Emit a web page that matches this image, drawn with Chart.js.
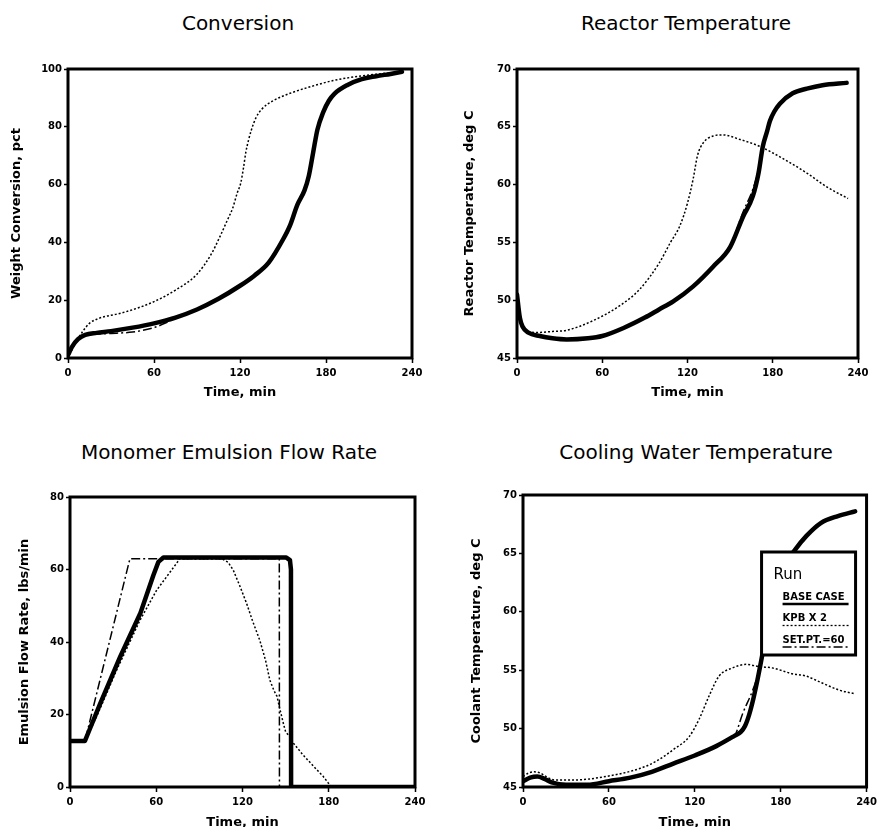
<!DOCTYPE html>
<html>
<head>
<meta charset="utf-8">
<script src="https://cdn.jsdelivr.net/npm/chart.js@4.4.0/dist/chart.umd.min.js"></script>
<style>
  html, body { margin: 0; padding: 0; background: #fff; width: 881px; height: 827px; overflow: hidden; }
  canvas { position: absolute; }
  .title { position: absolute; width: 400px; text-align: center; white-space: nowrap;
           font-family: "DejaVu Sans", sans-serif; font-size: 20px; color: #000; }
</style>
</head>
<body>
<div class="title" style="left:38px;top:11px">Conversion</div>
<div class="title" style="left:486px;top:11px">Reactor Temperature</div>
<div class="title" style="left:29px;top:440px">Monomer Emulsion Flow Rate</div>
<div class="title" style="left:496px;top:440px">Cooling Water Temperature</div>

<canvas id="c1" width="440" height="413" style="left:0;top:0"></canvas>
<canvas id="c2" width="441" height="413" style="left:440px;top:0"></canvas>
<canvas id="c3" width="440" height="430" style="left:0;top:413px"></canvas>
<canvas id="c4" width="441" height="430" style="left:440px;top:413px"></canvas>

<script>
// --- run names ---
const runLabels = ["BASE CASE", "KPB X 2", "SET.PT.=60"];

// --- Conversion (pct) ---
const convBaseT = [0, 3, 7, 12, 20, 30, 45, 60, 75, 90, 105, 120, 130, 140, 150, 155, 160, 165, 168, 171, 174, 178, 182, 186, 195, 205, 215, 225, 233];
const convBase  = [1, 4, 6.5, 8, 8.7, 9.3, 10.5, 12, 14, 16.8, 20.5, 25, 28.5, 33, 41, 46, 53, 58, 63, 71, 79, 85, 89, 91.5, 94.5, 96.5, 97.5, 98.3, 99];
const convKpbT  = [0, 5, 10, 15, 22, 35, 45, 60, 75, 90, 100, 106, 111, 115, 118, 120.5, 122.5, 124, 126, 128, 131, 135, 143, 155, 170, 185, 200, 215, 233];
const convKpb   = [0, 5, 9, 12, 13.8, 15.3, 16.7, 19.5, 23.5, 29, 36, 42, 47.5, 52, 57, 60.5, 66, 71, 75.5, 79, 83, 86, 89, 91.6, 94, 96, 97.3, 98.2, 99];
const convSetT  = [0, 3, 7, 12, 20, 30, 45, 60, 70, 80, 90, 105, 120, 130, 140, 150, 155, 160, 165, 168, 171, 174, 178, 182, 186, 195, 205, 215, 225, 233];
const convSet   = [1, 4, 6.3, 7.8, 8.3, 8.5, 9.0, 10.5, 12.6, 15, 16.8, 20.5, 25, 28.5, 33, 41, 46, 53, 58, 63, 71, 79, 85, 89, 91.5, 94.5, 96.5, 97.5, 98.3, 99];

// --- Reactor temperature (deg C) ---
const rtBaseT = [0, 2, 4, 8, 16, 25, 35, 50, 60, 75, 90, 100, 110, 124, 138, 150, 159, 166, 170, 173, 176, 178, 181, 185, 194, 204, 215, 232];
const rtBase  = [50.5, 48.5, 47.7, 47.2, 46.9, 46.7, 46.6, 46.7, 46.9, 47.6, 48.5, 49.2, 49.9, 51.2, 52.9, 54.6, 57.2, 59, 61, 63.3, 64.6, 65.5, 66.3, 67.0, 67.9, 68.3, 68.6, 68.8];
const rtKpbT  = [0, 2, 4, 8, 14, 25, 35, 53, 72, 86, 100, 108, 114.5, 120, 124, 127, 131, 138, 145, 157, 171, 185, 204, 218, 233];
const rtKpb   = [50.5, 48.5, 47.8, 47.3, 47.2, 47.3, 47.4, 48.2, 49.5, 50.9, 53.2, 55, 56.4, 58.4, 60.5, 62.5, 63.6, 64.2, 64.3, 63.9, 63.3, 62.4, 61, 59.8, 58.8];
const rtSetT  = [0, 2, 4, 8, 16, 25, 35, 50, 60, 75, 90, 100, 110, 124, 138, 150, 159, 166, 170, 173, 176, 178, 181, 185, 194, 204, 215, 232];
const rtSet   = [50.5, 48.5, 47.7, 47.2, 46.9, 46.7, 46.6, 46.7, 46.9, 47.6, 48.5, 49.2, 49.9, 51.2, 52.9, 54.6, 57.6, 59.6, 61.3, 63.3, 64.6, 65.5, 66.3, 67.0, 67.9, 68.3, 68.6, 68.8];

// --- Monomer emulsion flow rate (lbs/min) ---
const flowBaseT = [0, 10.4, 14, 21, 35, 49, 58, 61.5, 65, 150.5, 153, 153.7, 153.8, 240];
const flowBase  = [12.7, 12.7, 16.2, 23, 36, 48, 58.4, 62.1, 63.3, 63.3, 62.6, 60, 0, 0];
const flowKpbT  = [0, 10.4, 18.5, 32.5, 48.7, 60.3, 70, 76.5, 105.5, 110, 113.6, 118, 122.9, 127, 132, 136, 139, 142, 144, 146, 148.4, 150, 153, 155.4, 162, 166, 171.6, 176, 179.7, 182, 240];
const flowKpb   = [12.7, 12.7, 19.4, 32.3, 46, 54.3, 59.5, 63, 63, 62, 59.8, 55.6, 50.6, 45.8, 40.5, 35, 29.5, 26.5, 25, 21.5, 17.6, 15.2, 13.9, 12.1, 8.9, 7.2, 4.8, 3, 1.1, 0, 0];
const flowSetT  = [0, 10.4, 41.7, 145.6, 145.7, 240];
const flowSet   = [12.7, 12.7, 63, 63, 0, 0];

// --- Cooling water temperature (deg C) ---
const cwBaseT = [0, 5, 10, 15, 20, 30, 45, 60, 75, 90, 105, 120, 135, 148, 152, 155, 158, 161, 164, 167, 170, 177, 183, 190, 198, 208, 220, 232];
const cwBase  = [45.5, 45.8, 45.9, 45.7, 45.4, 45.2, 45.2, 45.5, 45.8, 46.3, 47.0, 47.7, 48.5, 49.4, 49.7, 50.2, 51.2, 52.6, 54.3, 56.2, 58.3, 62, 64, 65.3, 66.5, 67.6, 68.2, 68.6];
const cwKpbT  = [0, 4, 8, 12, 16, 22, 35, 58, 82, 93, 105, 116, 123, 130, 137, 146.5, 156, 165, 174, 188, 197.6, 209, 220.8, 231];
const cwKpb   = [45.9, 46.2, 46.3, 46.2, 45.9, 45.6, 45.6, 45.9, 46.6, 47.2, 48.2, 49.3, 50.8, 52.8, 54.5, 55.2, 55.5, 55.3, 55.2, 54.7, 54.5, 53.9, 53.3, 53.0];
const cwSetT  = [0, 5, 10, 15, 20, 30, 45, 60, 75, 90, 105, 120, 135, 145, 148, 153.5, 160.5, 165, 170, 177, 183, 190, 198, 208, 220, 232];
const cwSet   = [45.5, 45.8, 45.9, 45.7, 45.4, 45.2, 45.2, 45.5, 45.8, 46.3, 47.0, 47.7, 48.5, 49.1, 49.4, 51.3, 53.3, 55, 57.5, 62, 64, 65.3, 66.5, 67.6, 68.2, 68.6];

// --- axis ticks ---
const timeTicks = { min: 0, max: 240, step: 60 };

const FONT = '"DejaVu Sans", sans-serif';

function pts(xs, ys) {
  return xs.map((x, i) => ({ x: x, y: ys[i] }));
}

function runDatasets(base, kpb, set, tension) {
  const common = { borderColor: "#000", pointRadius: 0, fill: false };
  const curve = tension ? { cubicInterpolationMode: "monotone" } : { tension: 0 };
  return [
    Object.assign({ label: runLabels[0], data: base, borderWidth: 4.5, borderCapStyle: "round", borderJoinStyle: "round" }, common, curve),
    Object.assign({ label: runLabels[1], data: kpb, borderWidth: 1.5, borderDash: [2, 2] }, common, curve),
    Object.assign({ label: runLabels[2], data: set, borderWidth: 1.5, borderDash: [9, 3, 2, 3] }, common, curve),
  ];
}

// heavy box round the plot area
const framePlugin = {
  id: "frame",
  afterDatasetsDraw(chart) {
    const { ctx, chartArea: a } = chart;
    ctx.save();
    ctx.lineWidth = 3;
    ctx.strokeStyle = "#000";
    ctx.strokeRect(a.left, a.top, a.right - a.left, a.bottom - a.top);
    ctx.restore();
  },
};

// "Run" legend box in the cooling water panel
const runLegend = {
  id: "runLegend",
  afterDraw(chart) {
    const { ctx, chartArea: a } = chart;
    const w = 94, h = 103;
    const x = a.right - 11 - w, y = a.top + 57;
    ctx.save();
    ctx.fillStyle = "#fff";
    ctx.fillRect(x, y, w, h);
    ctx.lineWidth = 3;
    ctx.strokeStyle = "#000";
    ctx.strokeRect(x, y, w, h);
    ctx.fillStyle = "#000";
    ctx.textBaseline = "middle";
    ctx.font = "15px " + FONT;
    ctx.fillText("Run", x + 12, y + 23);
    chart.data.datasets.forEach((ds, i) => {
      const ty = y + 45 + i * 21.5;
      ctx.font = "bold 10px " + FONT;
      ctx.fillText(ds.label, x + 21, ty);
      ctx.beginPath();
      ctx.lineWidth = ds.borderWidth > 3 ? 2.5 : 1.3;
      ctx.setLineDash(ds.borderDash || []);
      ctx.moveTo(x + 21, ty + 7);
      ctx.lineTo(x + 87, ty + 7);
      ctx.stroke();
    });
    ctx.restore();
  },
};

function makeChart(id, p) {
  const tickFont = { family: FONT, size: 10, weight: "bold" };
  const titleFont = { family: FONT, size: 13, weight: "bold" };
  return new Chart(document.getElementById(id), {
    type: "line",
    data: { datasets: p.datasets },
    plugins: p.plugins,
    options: {
      responsive: false,
      animation: false,
      layout: { padding: { left: 0, top: p.top, right: p.right, bottom: 0 } },
      plugins: { legend: { display: false }, tooltip: { enabled: false }, title: { display: false } },
      scales: {
        x: {
          type: "linear",
          min: timeTicks.min,
          max: timeTicks.max,
          ticks: { stepSize: timeTicks.step, color: "#000", font: tickFont, padding: 4, maxRotation: 0 },
          grid: { drawOnChartArea: false, tickLength: 5, color: "#000", tickWidth: 1.5 },
          border: { display: false },
          title: { display: true, text: "Time, min", color: "#000", font: titleFont, padding: { top: 0, bottom: 13 } },
          afterFit: (s) => { s.height = p.xH; },
        },
        y: {
          min: p.yMin,
          max: p.yMax,
          ticks: { stepSize: p.yStep, color: "#000", font: tickFont, padding: 2 },
          grid: { drawOnChartArea: false, tickLength: 4, color: "#000", tickWidth: 1.5 },
          border: { display: false },
          title: { display: true, text: p.yTitle, color: "#000", font: titleFont, padding: { top: p.yPad, bottom: 0 } },
          afterFit: (s) => { s.width = p.yW; },
        },
      },
    },
  });
}

makeChart("c1", {
  datasets: runDatasets(pts(convBaseT, convBase), pts(convKpbT, convKpb), pts(convSetT, convSet), true),
  plugins: [framePlugin],
  top: 69, right: 28, yW: 68, xH: 55, yPad: 9,
  yMin: 0, yMax: 100, yStep: 20, yTitle: "Weight Conversion, pct",
});

makeChart("c2", {
  datasets: runDatasets(pts(rtBaseT, rtBase), pts(rtKpbT, rtKpb), pts(rtSetT, rtSet), true),
  plugins: [framePlugin],
  top: 69, right: 23, yW: 77, xH: 55, yPad: 22,
  yMin: 45, yMax: 70, yStep: 5, yTitle: "Reactor Temperature, deg C",
});

makeChart("c3", {
  datasets: runDatasets(pts(flowBaseT, flowBase), pts(flowKpbT, flowKpb), pts(flowSetT, flowSet), false),
  plugins: [framePlugin],
  top: 84, right: 25, yW: 70, xH: 56, yPad: 17,
  yMin: 0, yMax: 80, yStep: 20, yTitle: "Emulsion Flow Rate, lbs/min",
});

makeChart("c4", {
  datasets: runDatasets(pts(cwBaseT, cwBase), pts(cwKpbT, cwKpb), pts(cwSetT, cwSet), true),
  plugins: [framePlugin, runLegend],
  top: 82, right: 13, yW: 83, xH: 56, yPad: 29,
  yMin: 45, yMax: 70, yStep: 5, yTitle: "Coolant Temperature, deg C",
});
</script>
</body>
</html>
